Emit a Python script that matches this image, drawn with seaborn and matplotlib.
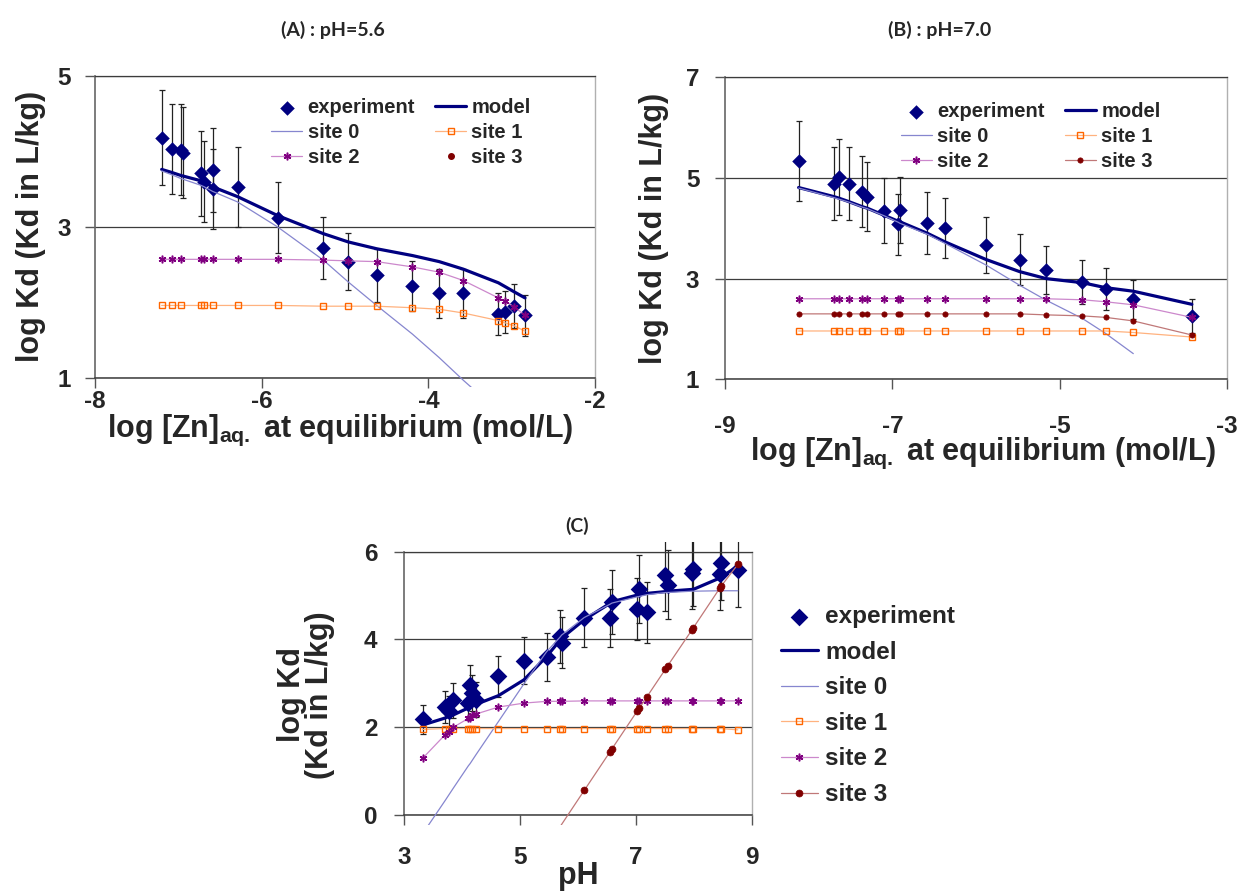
import numpy as np
import pandas as pd
import matplotlib
matplotlib.use("Agg")
import matplotlib.pyplot as plt
import seaborn as sns
from matplotlib.patches import Rectangle

sns.set_style("white")
plt.rcParams['font.family'] = ['Liberation Sans', 'DejaVu Sans']
plt.rcParams['font.weight'] = 'bold'
plt.rcParams['axes.labelweight'] = 'bold'
plt.rcParams['axes.unicode_minus'] = False
plt.rcParams['mathtext.fontset'] = 'custom'
plt.rcParams['mathtext.rm'] = 'Liberation Sans:bold'
plt.rcParams['mathtext.bf'] = 'Liberation Sans:bold'
plt.rcParams['mathtext.it'] = 'Liberation Sans:bold'

nan = np.nan

# ---- (A) pH = 5.6 ----
zn_a_exp = [-7.20, -7.08, -6.97, -6.95, -6.73, -6.69, -6.59, -6.59, -6.29, -5.81,
            -5.26, -4.96, -4.62, -4.19, -3.87, -3.58, -3.16, -3.08, -2.97, -2.84]
kd_a_exp = [4.18, 4.03, 4.02, 3.98, 3.71, 3.60, 3.75, 3.50, 3.53, 3.12,
            2.72, 2.54, 2.36, 2.22, 2.12, 2.12, 1.85, 1.87, 1.95, 1.83]
err_a = [0.63, 0.60, 0.60, 0.60, 0.56, 0.54, 0.56, 0.53, 0.53, 0.47,
         0.41, 0.38, 0.35, 0.33, 0.32, 0.32, 0.28, 0.28, 0.29, 0.27]
zn_a = [-7.20, -7.08, -6.97, -6.73, -6.69, -6.59, -6.29, -5.81, -5.26,
        -4.96, -4.62, -4.19, -3.87, -3.58, -3.16, -3.08, -2.97, -2.84]
model_a = [3.76, 3.72, 3.68, 3.61, 3.59, 3.53, 3.40, 3.15, 2.91,
           2.80, 2.71, 2.62, 2.54, 2.44, 2.26, 2.21, 2.14, 2.06]
site0_a = [3.74, 3.69, 3.64, 3.55, 3.53, 3.47, 3.33, 3.00, 2.56,
           2.27, 1.96, 1.58, 1.27, 0.97, 0.56, nan, nan, nan]
site1_a = [1.96, 1.96, 1.96, 1.96, 1.96, 1.96, 1.96, 1.96, 1.95,
           1.95, 1.95, 1.93, 1.91, 1.86, 1.76, 1.73, 1.69, 1.62]
site2_a = [2.57, 2.57, 2.57, 2.57, 2.57, 2.57, 2.57, 2.57, 2.56,
           2.55, 2.54, 2.47, 2.40, 2.29, 2.06, 2.02, 1.94, 1.83]
site3_a = []   # below the plotted range at this pH

# ---- (B) pH = 7.0 ----
zn_b = [-8.12, -7.70, -7.64, -7.52, -7.36, -7.30, -7.10, -6.93, -6.91,
        -6.58, -6.37, -5.88, -5.48, -5.16, -4.73, -4.45, -4.12, -3.42]
kd_b_exp = [5.34, 4.89, 5.02, 4.89, 4.73, 4.63, 4.35, 4.08, 4.36,
            4.11, 4.01, 3.67, 3.38, 3.17, 2.94, 2.80, 2.59, 2.26]
err_b = [0.80, 0.73, 0.75, 0.73, 0.71, 0.69, 0.65, 0.61, 0.65,
         0.62, 0.60, 0.55, 0.51, 0.48, 0.44, 0.42, 0.39, 0.34]
model_b = [4.81, 4.63, 4.60, 4.53, 4.43, 4.40, 4.26, 4.14, 4.13,
           3.90, 3.73, 3.38, 3.14, 3.00, 2.92, 2.82, 2.75, 2.49]
site0_b = [4.80, 4.61, 4.58, 4.52, 4.42, 4.39, 4.25, 4.12, 4.10,
           3.88, 3.70, 3.27, 2.87, 2.57, 2.21, 1.91, 1.51, nan]
site1_b = [1.96, 1.96, 1.96, 1.96, 1.96, 1.96, 1.96, 1.96, 1.96,
           1.96, 1.96, 1.96, 1.96, 1.96, 1.96, 1.96, 1.93, 1.84]
site2_b = [2.60, 2.60, 2.60, 2.60, 2.60, 2.60, 2.60, 2.60, 2.60,
           2.60, 2.60, 2.60, 2.60, 2.60, 2.58, 2.54, 2.48, 2.23]
site3_b = [2.30, 2.30, 2.30, 2.30, 2.30, 2.30, 2.30, 2.30, 2.30,
           2.30, 2.30, 2.30, 2.30, 2.28, 2.26, 2.23, 2.16, 1.88]

# ---- (C) pH edge ----
ph_c = [3.32, 3.71, 3.78, 3.85, 4.11, 4.14, 4.17, 4.24, 4.63, 5.07, 5.46, 5.69, 5.72,
        6.11, 6.55, 6.59, 7.02, 7.06, 7.19, 7.51, 7.55, 7.97, 7.99, 8.45, 8.47, 8.76]
kd_c_exp = [2.18, 2.46, 2.36, 2.61, 2.55, 2.97, 2.78, 2.63, 3.16, 3.52, 3.60, 4.07, 3.93,
            4.50, 4.49, 4.85, 4.70, 5.15, 4.62, 5.46, 5.25, 5.52, 5.61, 5.50, 5.75, 5.58]
err_c = [0.33, 0.37, 0.35, 0.39, 0.38, 0.45, 0.42, 0.39, 0.47, 0.53, 0.54, 0.61, 0.59,
         0.68, 0.67, 0.73, 0.71, 0.77, 0.69, 0.82, 0.79, 0.83, 0.84, 0.83, 0.86, 0.84]
model_c = [2.05, 2.21, 2.25, 2.28, 2.44, 2.46, 2.48, 2.52, 2.72, 3.08, 3.61, 3.98, 4.03,
           4.45, 4.82, 4.86, 5.01, 5.02, 5.05, 5.09, 5.10, 5.14, 5.14, 5.40, 5.42, 5.67]
site0_c = [-0.43, 0.33, 0.47, 0.61, 1.12, 1.17, 1.23, 1.37, 2.13, 2.99, 3.72, 4.05, 4.10,
           4.50, 4.80, 4.83, 4.97, 4.98, 5.02, 5.07, 5.07, 5.10, 5.10, 5.11, 5.11, 5.11]
site1_c = [1.95, 1.97, 1.97, 1.97, 1.97, 1.97, 1.97, 1.97, 1.97, 1.97, 1.97, 1.97, 1.97,
           1.97, 1.97, 1.97, 1.97, 1.97, 1.97, 1.97, 1.97, 1.97, 1.97, 1.97, 1.97, 1.94]
site2_c = [1.29, 1.83, 1.90, 2.00, 2.20, 2.22, 2.27, 2.30, 2.46, 2.55, 2.59, 2.59, 2.59,
           2.60, 2.60, 2.60, 2.60, 2.60, 2.60, 2.60, 2.60, 2.60, 2.60, 2.60, 2.60, 2.60]
site3_c = [nan, nan, nan, nan, nan, nan, nan, nan, nan, nan, -0.73, nan, nan,
           0.56, 1.43, 1.51, 2.36, 2.43, 2.69, 3.32, 3.40, 4.22, 4.26, 5.17, 5.21, 5.71]

NAVY = '#000080'
SITE0 = '#8686CF'
S1_LINE, S1_MK = '#FFB27F', '#FF6600'
S2_LINE, S2_MK = '#CC88CC', '#800080'
S3_LINE, S3_MK = '#C07878', '#800000'
ASTER = (6, 2, 0)


def draw_panel(ax, x_exp, y_exp, err, x_mod, model, s0, s1, s2, s3, x3,
               d_ms, sq_ms, dot_ms):
    ax.errorbar(x_exp, y_exp, yerr=err, fmt='none', ecolor='#222222',
                elinewidth=0.9, capsize=2.5, capthick=0.9, zorder=2)
    sns.scatterplot(x=x_exp, y=y_exp, marker='D', s=d_ms ** 2, color=NAVY,
                    edgecolor=NAVY, linewidth=0, label='experiment', ax=ax, zorder=3)
    sns.lineplot(x=x_mod, y=model, color=NAVY, lw=2.3, estimator=None, sort=False,
                 label='model', ax=ax, zorder=4)
    sns.lineplot(x=x_mod, y=s0, color=SITE0, lw=0.9, estimator=None, sort=False,
                 label='site 0', ax=ax, zorder=4)
    sns.lineplot(x=x_mod, y=s1, color=S1_LINE, lw=0.9, marker='s', markersize=sq_ms,
                 markerfacecolor='none', markeredgecolor=S1_MK, markeredgewidth=1.0,
                 estimator=None, sort=False, label='site 1', ax=ax, zorder=4)
    sns.lineplot(x=x_mod, y=s2, color=S2_LINE, lw=0.9, marker=ASTER, markersize=5.5,
                 markeredgecolor=S2_MK, markeredgewidth=1.1,
                 estimator=None, sort=False, label='site 2', ax=ax, zorder=4)
    if len(s3):
        sns.lineplot(x=x3, y=s3, color=S3_LINE, lw=0.9, marker='o', markersize=dot_ms,
                     markerfacecolor=S3_MK, markeredgecolor=S3_MK, markeredgewidth=0.5,
                     estimator=None, sort=False, label='site 3', ax=ax, zorder=4)
    else:
        ax.plot([], [], ls='none', marker='o', markersize=dot_ms, color=S3_MK,
                label='site 3')


def style_axes(ax, xlim, xticks, ylim, yticks, xpad, ypad, clip_pad):
    ax.set_xlim(xlim)
    ax.set_ylim(ylim)
    ax.set_xticks(xticks)
    ax.set_yticks(yticks)
    ax.set_xticklabels([str(t) for t in xticks], fontweight='bold')
    ax.set_yticklabels([str(t) for t in yticks], fontweight='bold')
    ax.grid(axis='y', color='#3c3c3c', lw=0.9)
    ax.grid(axis='x', visible=False)
    ax.set_axisbelow(True)
    ax.spines['left'].set_color('#666666')
    ax.spines['left'].set_linewidth(1.2)
    ax.spines['bottom'].set_color('#3c3c3c')
    ax.spines['bottom'].set_linewidth(1.1)
    ax.spines['top'].set_color('#3c3c3c')
    ax.spines['top'].set_linewidth(0.9)
    ax.spines['right'].set_color('#b0b0b0')
    ax.spines['right'].set_linewidth(1.0)
    ax.tick_params(axis='both', direction='out', length=7.5, width=1.0,
                   color='#555555', labelsize=17.5, bottom=True, left=True)
    ax.tick_params(axis='x', pad=xpad)
    ax.tick_params(axis='y', pad=ypad)
    # Excel lets marks run a few pixels past the plot area
    box = Rectangle((0, -clip_pad), 1, 1 + 2 * clip_pad, transform=ax.transAxes)
    for art in list(ax.lines) + list(ax.collections):
        art.set_clip_path(box)


def add_legend(ax, order, ncol, size, anchor, **kw):
    h, l = ax.get_legend_handles_labels()
    lookup = dict(zip(l, h))
    ax.legend([lookup[k] for k in order], order, ncol=ncol, loc='upper left',
              bbox_to_anchor=anchor, frameon=False, borderpad=0,
              prop={'size': size, 'weight': 'bold'}, **kw)


fig = plt.figure(figsize=(12.42, 8.92), dpi=100)
W, H = 1242, 892


def px_axes(x0, y0, x1, y1):
    return fig.add_axes([x0 / W, 1 - y1 / H, (x1 - x0) / W, (y1 - y0) / H])


zn_label = r'log [Zn$\mathbf{]_{aq.}}$ at equilibrium (mol/L)'
ylab = 'log Kd (Kd in L/kg)'
leg_two_col = ['experiment', 'site 0', 'site 2', 'model', 'site 1', 'site 3']
LAB = 22

# panel A
ax_a = px_axes(95, 75.7, 595, 378)
draw_panel(ax_a, zn_a_exp, kd_a_exp, err_a, zn_a, model_a, site0_a, site1_a,
           site2_a, site3_a, [], 7.4, 4.0, 4.0)
style_axes(ax_a, (-8, -2), [-8, -6, -4, -2], (1, 5), [1, 3, 5], 1, 10, 0.03)
ax_a.set_xlabel(zn_label, fontsize=LAB)
ax_a.xaxis.label.set_va('center')
ax_a.xaxis.set_label_coords(0.49, -0.172)
ax_a.set_ylabel(ylab, fontsize=LAB)
ax_a.yaxis.label.set_va('center')
ax_a.yaxis.set_label_coords(-0.128, 0.5)
add_legend(ax_a, leg_two_col, 2, 14.5, (0.332, 0.96), handlelength=1.55,
           handletextpad=0.26, columnspacing=1.0, labelspacing=0.3)

# panel B
ax_b = px_axes(725, 77.3, 1227, 379.3)
draw_panel(ax_b, zn_b, kd_b_exp, err_b, zn_b, model_b, site0_b, site1_b,
           site2_b, site3_b, zn_b, 7.4, 4.0, 3.8)
style_axes(ax_b, (-9, -3), [-9, -7, -5, -3], (1, 7), [1, 3, 5, 7], 18, 11, 0.03)
ax_b.set_xlabel(zn_label, fontsize=LAB)
ax_b.xaxis.label.set_va('center')
ax_b.xaxis.set_label_coords(0.514, -0.245)
ax_b.set_ylabel(ylab, fontsize=LAB)
ax_b.yaxis.label.set_va('center')
ax_b.yaxis.set_label_coords(-0.141, 0.5)
add_legend(ax_b, leg_two_col, 2, 14.5, (0.33, 0.952), handlelength=1.55,
           handletextpad=0.26, columnspacing=1.0, labelspacing=0.3)

# panel C
ax_c = px_axes(404, 551.7, 751.7, 815)
draw_panel(ax_c, ph_c, kd_c_exp, err_c, ph_c, model_c, site0_c, site1_c,
           site2_c, site3_c, ph_c, 9.0, 4.8, 5.0)
style_axes(ax_c, (3, 9), [3, 5, 7, 9], (0, 6), [0, 2, 4, 6], 15, 11.5, 0.038)
ax_c.set_xlabel('pH', fontsize=LAB)
ax_c.xaxis.label.set_va('center')
ax_c.xaxis.set_label_coords(0.5, -0.232)
ax_c.set_ylabel('log Kd\n(Kd in L/kg)', fontsize=LAB, linespacing=0.95)
ax_c.yaxis.label.set_va('center')
ax_c.yaxis.set_label_coords(-0.282, 0.456)
add_legend(ax_c, ['experiment', 'model', 'site 0', 'site 1', 'site 2', 'site 3'], 1, 17.5,
           (1.05, 0.844), handlelength=1.5, handletextpad=0.3, labelspacing=0.52)

title_kw = dict(family=['Lato', 'DejaVu Sans'], weight='bold', fontsize=14,
                ha='center', va='center')
fig.text(333 / W, 1 - 30 / H, '(A) : pH=5.6', **title_kw)
fig.text(940 / W, 1 - 30 / H, '(B) : pH=7.0', **title_kw)
fig.text(577 / W, 1 - 526 / H, '(C)', **title_kw)

fig.savefig('out.png', dpi=100)
